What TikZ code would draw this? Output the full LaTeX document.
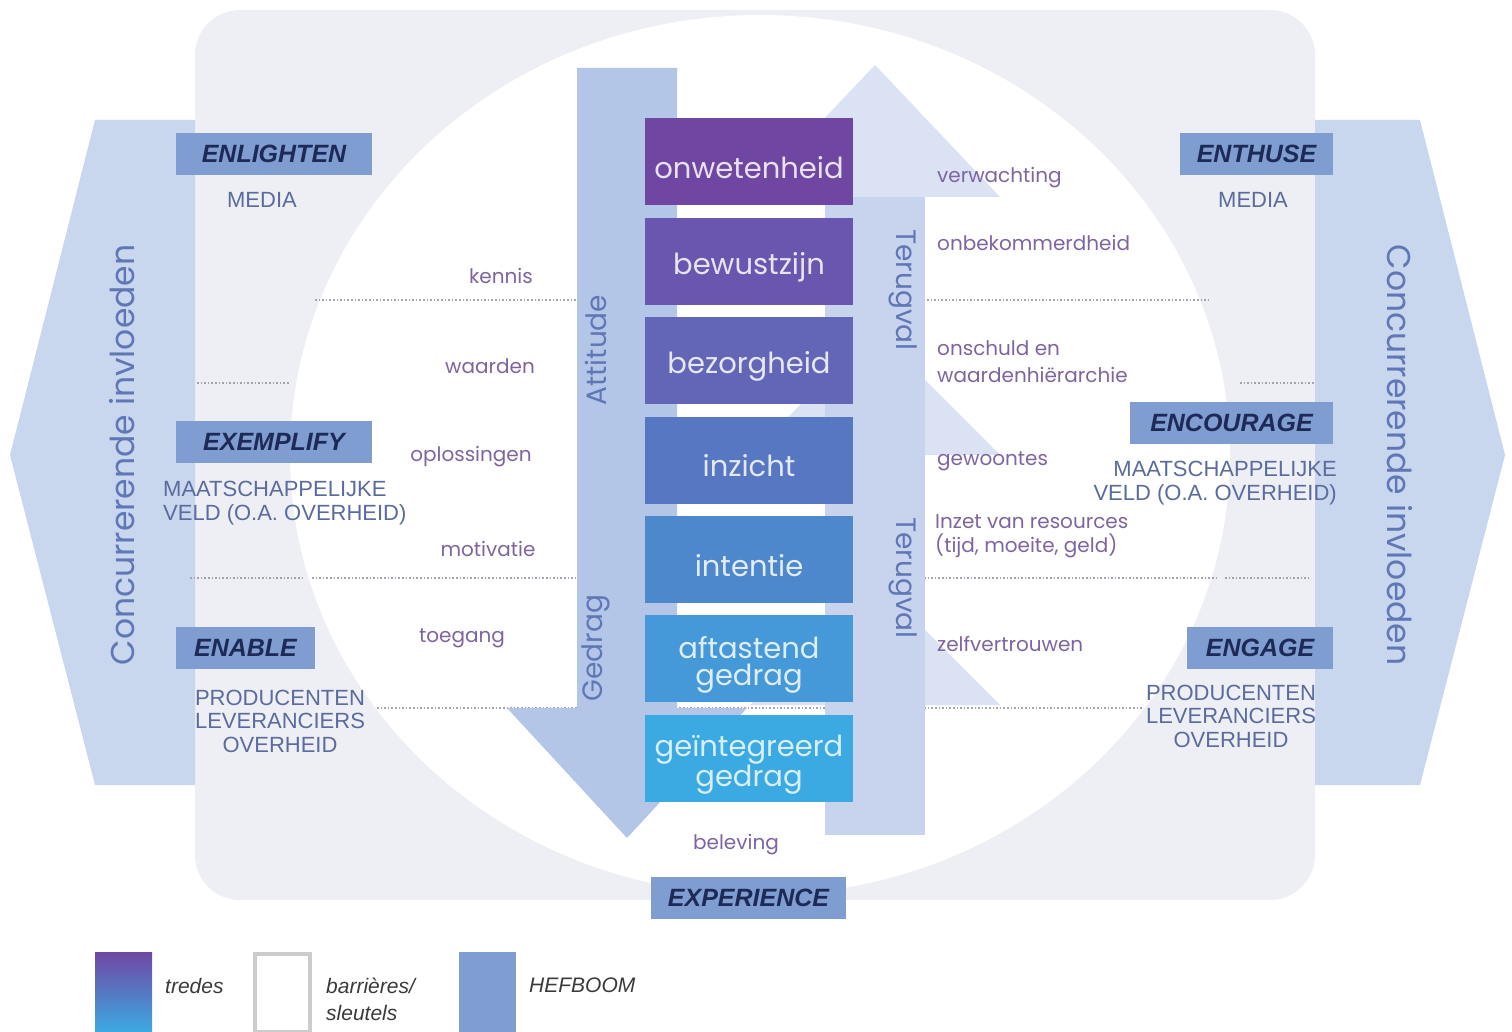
\documentclass[tikz,border=0pt]{standalone}
\usepackage{fontspec}
\setmainfont{Liberation Sans}
\newfontfamily\geo{Poppins}
\definecolor{panel}{HTML}{EEEFF4}
\definecolor{sidearrow}{HTML}{C8D6EE}
\definecolor{attbar}{HTML}{B4C6E7}
\definecolor{fallbar}{HTML}{C8D4ED}
\definecolor{fallhead}{HTML}{DAE2F3}
\definecolor{lever}{HTML}{7F9DD1}
\definecolor{navy}{HTML}{1D2A57}
\definecolor{actor}{HTML}{5A6C9E}
\definecolor{barrier}{HTML}{7F659F}
\definecolor{flow}{HTML}{6077B5}
\definecolor{sepline}{HTML}{A2A3AD}
\definecolor{tA}{HTML}{6F47A3}
\definecolor{tB}{HTML}{6A56AE}
\definecolor{tC}{HTML}{6366B6}
\definecolor{tD}{HTML}{5877C2}
\definecolor{tE}{HTML}{4E88CC}
\definecolor{tF}{HTML}{4599D8}
\definecolor{tG}{HTML}{3CAAE2}
\definecolor{legendtxt}{HTML}{3A3A3A}
\begin{document}
\begin{tikzpicture}[x=1pt,y=-1pt,
  stepbox/.style={minimum width=208pt, minimum height=87pt, inner sep=0pt},
  steptext/.style={inner sep=0pt, align=center, text=white!84!tA,
    font=\geo\fontsize{29}{27}\selectfont},
  leverbox/.style={fill=lever, minimum height=42pt, inner sep=0pt, text=navy,
    font=\bfseries\itshape\fontsize{25}{25}\selectfont},
  actor/.style={text=actor, inner sep=0pt, font=\fontsize{22}{23.5}\selectfont},
  barrierlbl/.style={text=barrier, inner sep=0pt, font=\geo\fontsize{20}{27}\selectfont},
  flowlbl/.style={text=flow, inner sep=0pt, font=\geo\fontsize{28}{28}\selectfont},
  sidelbl/.style={text=flow, inner sep=0pt, font=\geo\fontsize{33}{33}\selectfont},
  sep/.style={draw=sepline, dotted, line width=1.6pt},
  legendlbl/.style={text=legendtxt, inner sep=0pt, align=left,
    font=\itshape\fontsize{21}{27}\selectfont}]
\useasboundingbox (0,0) rectangle (1512,1032);

% panel with the open oval
\fill[panel, rounded corners=45pt] (195,10) rectangle (1315,900);
\fill[white] (760,455) ellipse [x radius=470pt, y radius=440pt];

% competing influences, left and right
\fill[sidearrow] (195,120) -- (95,120) -- (10,455) -- (95,785) -- (195,785) -- cycle;
\fill[sidearrow] (1315,120) -- (1420,120) -- (1505,455) -- (1420,785) -- (1315,785) -- cycle;
\node[sidelbl, rotate=90] (concL) at (122,455) {Concurrerende invloeden};
\node[sidelbl, rotate=-90] (concR) at (1400,455) {Concurrerende invloeden};

% dotted separators
\draw[sep] (315,300) -- (1210,300);
\draw[sep] (197,383) -- (290,383);
\draw[sep] (1240,383) -- (1315,383);
\draw[sep] (190,578) -- (305,578);
\draw[sep] (312,578) -- (1217,578);
\draw[sep] (1225,578) -- (1310,578);
\draw[sep] (377,708) -- (1143,708);

% relapse arrows (upwards)
\fill[fallhead] (875,65) -- (1000,197) -- (750,197) -- cycle;
\fill[fallhead] (875,330) -- (1000,455) -- (750,455) -- cycle;
\fill[fallhead] (875,580) -- (1000,705) -- (750,705) -- cycle;
\fill[fallbar] (825,197) rectangle (925,835);

% attitude -> behaviour arrow (downwards)
\fill[attbar] (577,68) -- (677,68) -- (677,708) -- (747,708) -- (627,838)
  -- (507,708) -- (577,708) -- cycle;

% the steps
\node[stepbox, fill=tA] (s1) at (749,161.5) {};
\node[stepbox, fill=tB] (s2) at (749,261.5) {};
\node[stepbox, fill=tC] (s3) at (749,360) {};
\node[stepbox, fill=tD] (s4) at (749,460) {};
\node[stepbox, fill=tE] (s5) at (749,559.5) {};
\node[stepbox, fill=tF] (s6) at (749,658.5) {};
\node[stepbox, fill=tG] (s7) at (749,758.5) {};
\node[steptext] (s1t) at ([yshift=-6pt]s1.center) {onwetenheid};
\node[steptext, text=white!84!tB] (s2t) at ([yshift=-6pt]s2.center) {bewustzijn};
\node[steptext, text=white!84!tC] (s3t) at ([yshift=-6pt]s3.center) {bezorgheid};
\node[steptext, text=white!84!tD] (s4t) at ([yshift=-6pt]s4.center) {inzicht};
\node[steptext, text=white!84!tE] (s5t) at ([yshift=-6pt]s5.center) {intentie};
\node[steptext, text=white!82!tF] (s6t) at ([yshift=-6pt]s6.center) {aftastend\\gedrag};
\node[steptext, text=white!80!tG] (s7t) at ([yshift=-6pt]s7.center) {geïntegreerd\\gedrag};

% labels on the arrows
\node[flowlbl, rotate=90] (att) at (596,350) {Attitude};
\node[flowlbl, rotate=90] (ged) at (596,648) {Gedrag};
\node[flowlbl, rotate=-90] (ter1) at (903,290) {Terugval};
\node[flowlbl, rotate=-90] (ter2) at (903,578) {Terugval};

% barriers / keys, left
\node[barrierlbl] (b1) at (501,276) {kennis};
\node[barrierlbl] (b2) at (490,366) {waarden};
\node[barrierlbl] (b3) at (471,457) {oplossingen};
\node[barrierlbl] (b4) at (488,549) {motivatie};
\node[barrierlbl] (b5) at (462,638) {toegang};
\node[barrierlbl] (b6) at (736,845) {beleving};

% barriers / keys, right
\node[barrierlbl, anchor=west] (r1) at (937,178) {verwachting};
\node[barrierlbl, anchor=west] (r2) at (937,243) {onbekommerdheid};
\node[barrierlbl, anchor=west, align=left] (r3) at (937,362) {onschuld en\\waardenhiërarchie};
\node[barrierlbl, anchor=west] (r4) at (937,461) {gewoontes};
\node[barrierlbl, anchor=west, align=left, font=\geo\fontsize{20}{24}\selectfont] (r5) at (935,536) {Inzet van resources\\(tijd, moeite, geld)};
\node[barrierlbl, anchor=west] (r6) at (937,644) {zelfvertrouwen};

% levers
\node[leverbox, minimum width=196pt] (enlighten) at (274,154) {ENLIGHTEN};
\node[leverbox, minimum width=196pt] (exemplify) at (274,442) {EXEMPLIFY};
\node[leverbox, minimum width=139pt] (enable) at (245.5,648) {ENABLE};
\node[leverbox, minimum width=153pt] (enthuse) at (1256.5,154) {ENTHUSE};
\node[leverbox, minimum width=203pt] (encourage) at (1231.5,423) {ENCOURAGE};
\node[leverbox, minimum width=146pt] (engage) at (1260,648) {ENGAGE};
\node[leverbox, minimum width=195pt] (experience) at (748.5,898) {EXPERIENCE};

% actors
\node[actor] (a1) at (262,200) {MEDIA};
\node[actor, anchor=west, align=left] (a2) at (163,503) {MAATSCHAPPELIJKE\\VELD (O.A. OVERHEID)};
\node[actor, align=center] (a3) at (280,721) {PRODUCENTEN\\LEVERANCIERS\\OVERHEID};
\node[actor] (a4) at (1253,200) {MEDIA};
\node[actor, anchor=east, align=right] (a5) at (1337,483) {MAATSCHAPPELIJKE\\VELD (O.A. OVERHEID)};
\node[actor, align=center] (a6) at (1231,716) {PRODUCENTEN\\LEVERANCIERS\\OVERHEID};

% legend
\shade[top color=tA, bottom color=tG] (95,952) rectangle (152,1032);
\node[legendlbl, anchor=west] (lg1) at (165,986) {tredes};
\draw[draw=black!20, line width=4pt, fill=white] (255,954) rectangle (310,1032);
\node[legendlbl, anchor=west] (lg2) at (326,999) {barrières/\\sleutels};
\fill[lever] (459,952) rectangle (516,1032);
\node[legendlbl, anchor=west] (lg3) at (529,985) {HEFBOOM};
\end{tikzpicture}
\end{document}
